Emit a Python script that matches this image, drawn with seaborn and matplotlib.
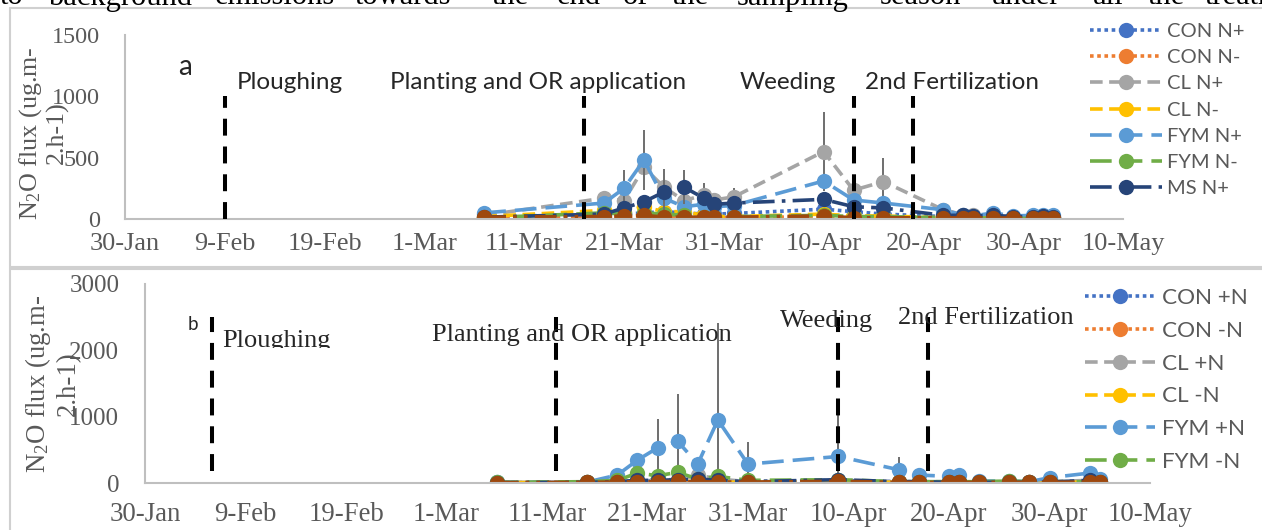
import numpy as np
import pandas as pd
import matplotlib
matplotlib.use("Agg")
import matplotlib.pyplot as plt
from matplotlib.lines import Line2D
from matplotlib.transforms import Bbox
import seaborn as sns

# ---------------- data : panel a ----------------
dates_a = ["2019-03-07", "2019-03-19", "2019-03-21", "2019-03-23", "2019-03-25",
           "2019-03-27", "2019-03-29", "2019-03-30", "2019-04-01", "2019-04-10",
           "2019-04-13", "2019-04-16", "2019-04-22", "2019-04-24", "2019-04-25",
           "2019-04-27", "2019-04-29", "2019-05-01", "2019-05-02", "2019-05-03"]
labels_a = ["CON N+", "CON N-", "CL N+", "CL N-", "FYM N+", "FYM N-", "MS N+", "MS N-"]
con_p_a = [10, 30, 40, 50, 60, 50, 40, 40, 45, 80, 60, 40, 20, 15, 10, 10, 10, 10, 10, 10]
con_m_a = [5, 15, 20, 25, 15, 10, 10, 10, 10, 20, 10, 10, 5, 5, 5, 5, 5, 5, 5, 5]
cl_p_a = [30, 170, 150, 420, 260, 150, 195, 155, 180, 550, 235, 305, 75, 35, 30, 30, 20, 20, 15, 15]
cl_m_a = [20, 70, 60, 100, 60, 60, 30, 20, 20, 40, 25, 25, 10, 10, 10, 10, 10, 10, 10, 10]
fym_p_a = [50, 130, 250, 480, 170, 100, 120, 100, 110, 310, 155, 130, 75, 30, 25, 50, 25, 30, 35, 30]
fym_m_a = [10, 50, 40, 50, 40, 30, 20, 20, 20, 30, 20, 20, 10, 10, 5, 10, 5, 5, 5, 5]
ms_p_a = [15, 40, 90, 140, 220, 260, 170, 120, 130, 160, 100, 90, 30, 30, 25, 30, 20, 20, 25, 20]
ms_m_a = [15, 20, 25, 30, 15, 15, 15, 15, 15, 25, 10, 10, 10, 8, 8, 8, 8, 8, 8, 8]
cl_p_err_a = [0, 60, 0, 0, 0, 0, 95, 60, 70, 325, 0, 195, 0, 0, 0, 0, 0, 0, 0, 0]
fym_p_err_a = [0, 0, 150, 245, 0, 0, 0, 0, 0, 0, 0, 0, 0, 0, 0, 0, 0, 0, 0, 0]
ms_p_err_a = [0, 0, 0, 0, 185, 140, 0, 0, 0, 0, 0, 0, 0, 0, 0, 0, 0, 0, 0, 0]
events_a = ["Ploughing", "Planting and OR application", "Weeding", "2nd Fertilization"]
event_dates_a = ["2019-02-09 00:00", "2019-03-17 00:00", "2019-04-13 00:00", "2019-04-19 00:00"]
event_span_a = [0, 1000]
yticks_a = [0, 500, 1000, 1500]

# ---------------- data : panel b ----------------
dates_b = ["2019-03-06", "2019-03-15", "2019-03-18", "2019-03-20", "2019-03-22",
           "2019-03-24", "2019-03-26", "2019-03-28", "2019-03-31", "2019-04-09",
           "2019-04-15", "2019-04-17", "2019-04-20", "2019-04-21", "2019-04-23",
           "2019-04-26", "2019-04-28", "2019-04-30", "2019-05-04", "2019-05-05"]
labels_b = ["CON +N", "CON -N", "CL +N", "CL -N", "FYM +N", "FYM -N", "MS +N", "MS -N"]
con_p_b = [5, 5, 20, 30, 30, 40, 50, 30, 20, 40, 20, 20, 10, 10, 10, 10, 10, 10, 20, 10]
con_m_b = [5, 5, 10, 15, 10, 20, 15, 10, 10, 20, 10, 10, 5, 5, 5, 5, 5, 5, 10, 5]
cl_p_b = [10, 10, 30, 40, 50, 50, 120, 60, 20, 30, 20, 20, 20, 20, 10, 10, 10, 20, 40, 20]
cl_m_b = [5, 10, 15, 20, 20, 25, 20, 15, 10, 20, 10, 10, 10, 10, 10, 10, 10, 10, 15, 10]
fym_p_b = [10, 15, 120, 345, 530, 630, 285, 950, 285, 400, 200, 120, 100, 120, 30, 30, 20, 80, 150, 60]
fym_m_b = [10, 20, 40, 150, 110, 160, 60, 100, 40, 50, 20, 20, 20, 20, 20, 30, 20, 20, 20, 20]
ms_p_b = [5, 10, 20, 40, 40, 50, 60, 40, 20, 50, 20, 20, 10, 10, 10, 10, 10, 15, 40, 20]
ms_m_b = [5, 10, 15, 20, 20, 25, 20, 15, 15, 25, 10, 10, 10, 10, 10, 10, 10, 10, 15, 10]
fym_p_err_b = [0, 0, 0, 0, 435, 710, 0, 1460, 340, 700, 190, 0, 0, 0, 0, 0, 0, 0, 0, 0]
events_b = ["Ploughing", "Planting and OR application", "Weeding", "2nd Fertilization"]
event_dates_b = ["2019-02-05 16:00", "2019-03-11 22:00", "2019-04-09 00:00", "2019-04-17 22:00"]
event_span_b = [180, 2500]
yticks_b = [0, 1000, 2000, 3000]

xtick_dates = ["2019-01-30", "2019-02-09", "2019-02-19", "2019-03-01", "2019-03-11",
               "2019-03-21", "2019-03-31", "2019-04-10", "2019-04-20", "2019-04-30", "2019-05-10"]
xtick_labels = ["30-Jan", "9-Feb", "19-Feb", "1-Mar", "11-Mar", "21-Mar", "31-Mar",
                "10-Apr", "20-Apr", "30-Apr", "10-May"]

# ---------------- style ----------------
sns.set_style("white")
plt.rcParams["font.family"] = ["Liberation Serif", "DejaVu Serif"]
plt.rcParams["mathtext.fontset"] = "custom"
plt.rcParams["mathtext.rm"] = "Liberation Serif"
plt.rcParams["mathtext.it"] = "Liberation Serif:italic"

colors = ["#4472C4", "#ED7D31", "#A5A5A5", "#FFC000", "#5B9BD5", "#70AD47", "#264478", "#9E480E"]
styles = [(0, (1, 1)), (0, (1, 1)), (0, (3.5, 1.8)), (0, (3.5, 1.8)),
          (0, (6, 2.5)), (0, (6, 2.5)), (0, (6, 2, 1, 2)), (0, (6, 2, 1, 2, 1, 2))]
GRAY = "#595959"
SANS = "Lato"
SERIF = "Liberation Serif"

W, H = 1262, 530
fig = plt.figure(figsize=(W / 100, H / 100), dpi=100)


def fx(px):
    return px / W


def fy(py):
    return 1 - py / H


def panel(ax, dates, series, errs, labels, yticks, ymax, event_dates, span, xfs, yfs, xpad, ypad):
    d = pd.to_datetime(dates, format="mixed")
    handles = []
    for i, vals in enumerate(series):
        df = pd.DataFrame({"date": d, "flux": vals})
        e = errs.get(i)
        if e is not None:
            e = np.asarray(e, dtype=float)
            m = e > 0
            ax.errorbar(df["date"][m], df["flux"][m], yerr=e[m], fmt="none",
                        ecolor="#6E6E6E", elinewidth=1.4, capsize=0)
        sns.lineplot(data=df, x="date", y="flux", ax=ax, color=colors[i],
                     linestyle=styles[i], lw=2.6, marker="o", ms=11,
                     mec=colors[i], mew=0, sort=False, legend=False)
        ln = ax.lines[-1]
        ln.set_label(labels[i])
        handles.append(ln)
    ax.vlines(pd.to_datetime(event_dates, format="mixed"), span[0], span[1], colors="black",
              linestyles=[(0, (4.2, 2.7))], lw=2.9, zorder=6)
    ax.set_xlim(pd.Timestamp("2019-01-30"), pd.Timestamp("2019-05-10"))
    ax.set_ylim(0, ymax)
    ax.set_xticks(pd.to_datetime(xtick_dates))
    ax.set_xticklabels(xtick_labels, fontsize=xfs, color=GRAY, family=SERIF)
    ax.set_yticks(yticks)
    ax.set_yticklabels([str(v) for v in yticks], fontsize=yfs, color=GRAY, family=SERIF)
    ax.tick_params(axis="x", length=0, pad=xpad)
    ax.tick_params(axis="y", length=0, pad=ypad)
    ax.set_xlabel("")
    ax.set_ylabel("")
    for s in ["top", "right"]:
        ax.spines[s].set_visible(False)
    for s in ["left", "bottom"]:
        ax.spines[s].set_color("#BFBFBF")
        ax.spines[s].set_linewidth(1.5)
    ax.patch.set_alpha(0)
    return handles


# ---------------- panel a ----------------
ax_a = fig.add_axes([fx(125), fy(219), fx(998), 184 / H])
h_a = panel(ax_a, dates_a, [con_p_a, con_m_a, cl_p_a, cl_m_a, fym_p_a, fym_m_a, ms_p_a, ms_m_a],
            {2: cl_p_err_a, 4: fym_p_err_a, 6: ms_p_err_a}, labels_a, yticks_a, 1500,
            event_dates_a, event_span_a, 18.9, 17.4, 10, 18)

# ---------------- panel b ----------------
ax_b = fig.add_axes([fx(145), fy(483), fx(1005), 199 / H])
h_b = panel(ax_b, dates_b, [con_p_b, con_m_b, cl_p_b, cl_m_b, fym_p_b, fym_m_b, ms_p_b, ms_m_b],
            {4: fym_p_err_b}, labels_b, yticks_b, 3000,
            event_dates_b, event_span_b, 19.3, 18, 14, 18.5)

# ---------------- legends ----------------
fig.legend(h_a[:7], labels_a[:7], loc="upper left", bbox_to_anchor=(fx(1090), fy(23)),
           frameon=False, borderpad=0, borderaxespad=0, handlelength=3.57,
           handletextpad=0.25, labelspacing=0.45, prop={"family": SANS, "size": 14.5},
           labelcolor=GRAY, numpoints=1)
fig.legend(h_b[:6], labels_b[:6], loc="upper left", bbox_to_anchor=(fx(1085), fy(288)),
           frameon=False, borderpad=0, borderaxespad=0, handlelength=3.1,
           handletextpad=0.3, labelspacing=0.57, prop={"family": SANS, "size": 16.2},
           labelcolor=GRAY, numpoints=1)

# ---------------- annotations ----------------
fig.text(fx(178), fy(75), "a", fontsize=20, family=SANS, va="baseline")
pos_a = [(237, 89), (390, 89), (740, 89), (865, 89)]
for txt, (px, py) in zip(events_a, pos_a):
    fig.text(fx(px), fy(py), txt, fontsize=17.5, family=SANS, va="baseline")

fig.text(fx(188), fy(330), "b", fontsize=13.5, family=SANS, va="baseline")
pos_b = [(222, 347), (432, 341), (780, 327), (898, 324)]
for k, (txt, (px, py)) in enumerate(zip(events_b, pos_b)):
    t = fig.text(fx(px), fy(py), txt, fontsize=19, family=SERIF, va="baseline", zorder=5)
    if k == 0:
        t.set_clip_box(Bbox.from_extents(0, H - 348, W, H))
        t.set_clip_on(True)

# y labels
ylab = "N$_2$O flux (ug.m-\n2.h-1)"
fig.text(fx(43), fy(133), ylab, rotation=90, ha="center", va="center",
         multialignment="center", color=GRAY, fontsize=18.7, family=SERIF, linespacing=1.15)
fig.text(fx(52), fy(384), ylab, rotation=90, ha="center", va="center",
         multialignment="center", color=GRAY, fontsize=19.3, family=SERIF, linespacing=1.15)

# clipped line of surrounding document text
words = ["to", "background", "emissions", "towards", "the", "end", "of", "the",
         "sampling", "season", "under", "all", "the", "treatments"]
word_x = [0, 48, 215, 355, 492, 557, 623, 672, 737, 880, 991, 1093, 1148, 1205]
for wd, px in zip(words, word_x):
    fig.text(fx(px), fy(4.5), wd, fontsize=22, family=SERIF, va="baseline", color="black")

# chart frames
border = "#D0D0D0"
fig.add_artist(Line2D([fx(10), 1], [fy(8), fy(8)], color=border, lw=1.5))
fig.add_artist(Line2D([fx(10), 1], [fy(267), fy(267)], color=border, lw=1.5))
fig.add_artist(Line2D([fx(10), 1], [fy(269), fy(269)], color=border, lw=1.5))
fig.add_artist(Line2D([fx(10), fx(10)], [fy(8), 0], color=border, lw=1.5))

fig.savefig("out.png", dpi=100)
